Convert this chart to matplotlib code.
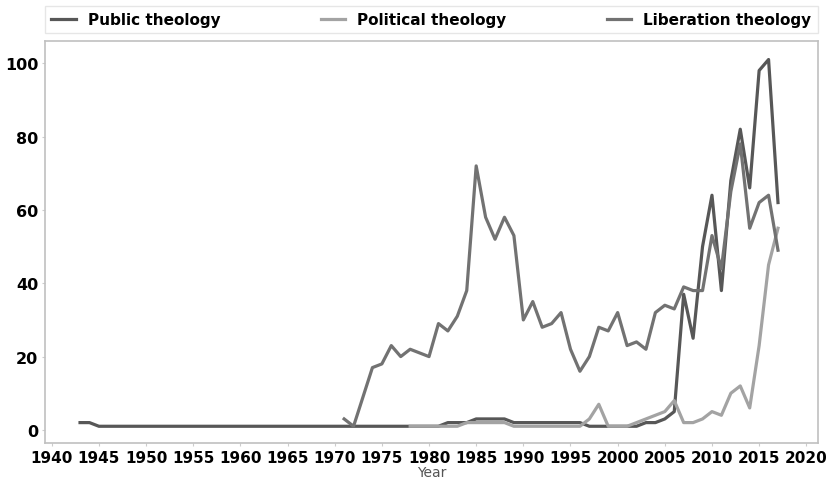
import numpy as np
import matplotlib
matplotlib.use("Agg")
import matplotlib.pyplot as plt

# yearly counts
public_years = list(range(1943, 2018))
public_vals = ([2, 2] + [1] * 36 +                      # 1943-1980
               [1, 2, 2, 2, 3, 3, 3, 3] +               # 1981-1988
               [2] * 8 +                                # 1989-1996
               [1] * 6 +                                # 1997-2002
               [2, 2, 3, 5] +                           # 2003-2006
               [37, 25, 50, 64, 38, 68, 82, 66, 98, 101, 62])  # 2007-2017

political_years = list(range(1978, 2018))
political_vals = ([1] * 6 +                             # 1978-1983
                  [2] * 5 +                             # 1984-1988
                  [1] * 8 +                             # 1989-1996
                  [3, 7, 1, 1, 1, 2, 3, 4, 5, 8] +      # 1997-2006
                  [2, 2, 3, 5, 4, 10, 12, 6, 23, 45, 55])  # 2007-2017

liberation_years = list(range(1971, 2018))
liberation_vals = [3, 1, 9, 17, 18, 23, 20, 22, 21, 20,
                   29, 27, 31, 38, 72, 58, 52, 58, 53, 30,
                   35, 28, 29, 32, 22, 16, 20, 28, 27, 32,
                   23, 24, 22, 32, 34, 33, 39, 38, 38, 53,
                   44, 65, 78, 55, 62, 64, 49]

labels = ["Public theology", "Political theology", "Liberation theology"]
colors = ["#575757", "#a3a3a3", "#727272"]

fig = plt.figure(figsize=(8.36, 4.85), dpi=100)
ax = fig.add_axes([0.054, 0.085, 0.924, 0.828])

ax.plot(public_years, public_vals, color=colors[0], lw=2.3, label=labels[0])
ax.plot(political_years, political_vals, color=colors[1], lw=2.3, label=labels[1])
ax.plot(liberation_years, liberation_vals, color=colors[2], lw=2.3, label=labels[2])

ax.set_xlim(1939.3, 2021.2)
ax.set_ylim(-3.5, 106)
ax.set_xticks(np.arange(1940, 2021, 5))
ax.set_yticks(np.arange(0, 101, 20))
for lab in ax.get_xticklabels():
    lab.set_fontweight("bold")
    lab.set_fontsize(11)
for lab in ax.get_yticklabels():
    lab.set_fontweight("bold")
    lab.set_fontsize(11.5)
ax.tick_params(length=2, color="#cccccc", pad=3)
for s in ax.spines.values():
    s.set_color("#c0c0c0")
    s.set_linewidth(1.2)

ax.set_xlabel("Year", fontsize=10, color="#555555", labelpad=0)

leg = ax.legend(loc="lower left", bbox_to_anchor=(0, 1.02, 1, 0.1), mode="expand",
                ncol=3, borderaxespad=0, frameon=True, fancybox=False,
                prop={"weight": "bold", "size": 11}, handlelength=1.6)
leg.get_frame().set_edgecolor("#e0e0e0")

fig.savefig("out.png", dpi=100)
